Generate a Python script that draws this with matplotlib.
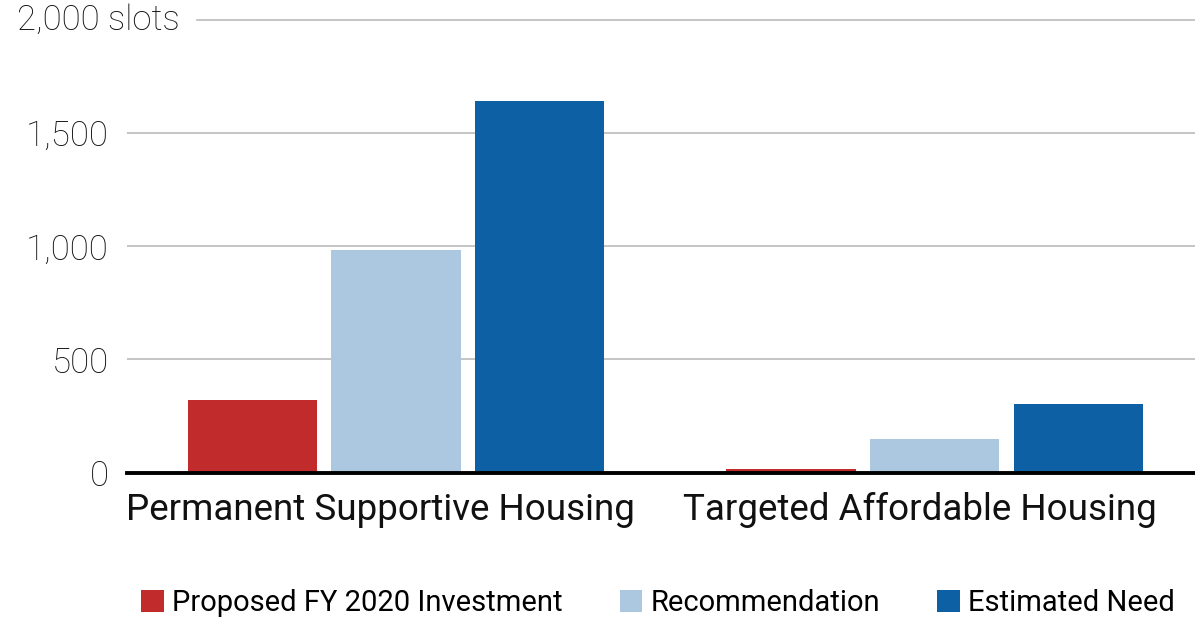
import matplotlib
matplotlib.use("Agg")
import matplotlib.pyplot as plt
import matplotlib.transforms as mtransforms
from matplotlib.patches import Patch
import numpy as np

categories = ["Permanent Supportive Housing", "Targeted Affordable Housing"]
series_names = ["Proposed FY 2020 Investment", "Recommendation", "Estimated Need"]
proposed = [322, 15]
recommendation = [984, 150]
estimated_need = [1643, 303]
ytick_values = [0, 500, 1000, 1500]
ytick_labels = ["0", "500", "1,000", "1,500"]
top_label = "2,000 slots"

colors = ["#C12B2B", "#ABC8E0", "#0E60A4"]

plt.rcParams['font.family'] = ['Roboto', 'DejaVu Sans']

W, H = 1195, 620
fig = plt.figure(figsize=(W / 100, H / 100), dpi=100)
ax_left, ax_right = 127, 1195
ax_top, ax_bottom = 20, 472.5
ax = fig.add_axes([ax_left / W, (H - ax_bottom) / H, (ax_right - ax_left) / W, (ax_bottom - ax_top) / H])

x = np.arange(len(categories))
width = 0.240
step = 0.2665
series = [proposed, recommendation, estimated_need]
for i, (vals, name, c) in enumerate(zip(series, series_names, colors)):
    ax.bar(x + (i - 1) * step, vals, width=width, color=c, label=name, zorder=2)

ax.set_xlim(-0.499, 1.483)
ax.set_ylim(0, 2000)
for s in ax.spines.values():
    s.set_visible(False)

ax.set_yticks(ytick_values)
ax.set_yticklabels(ytick_labels, fontsize=25, fontweight='light', color='#111111')
ax.tick_params(axis='y', length=0, pad=13)
ax.yaxis.grid(True, color='#BBBBBB', linewidth=1.2, zorder=0)
ax.set_axisbelow(True)
ax.axhline(2000, xmin=(197 - ax_left) / (ax_right - ax_left), xmax=1, color='#BBBBBB', linewidth=1.2, clip_on=False)
ax.axhline(0, color='black', linewidth=2.8, zorder=3, clip_on=False)

ax.text(17 / W, (H - 20) / H, top_label, transform=fig.transFigure, fontsize=25, fontweight='light',
        color='#111111', ha='left', va='center')

ax.set_xticks(x)
ax.set_xticklabels(categories, fontsize=26.5, color='#111111')
ax.tick_params(axis='x', length=0, pad=14)
offset = mtransforms.ScaledTranslation(-15 / 100, 0, fig.dpi_scale_trans)
for lbl in ax.get_xticklabels():
    lbl.set_transform(lbl.get_transform() + offset)

handles = [Patch(facecolor=c, edgecolor='none') for c in colors]
fig.legend(handles, series_names, loc='center', bbox_to_anchor=(658 / W, (H - 603) / H), ncol=3,
           frameon=False, fontsize=21, handlelength=0.78, handleheight=0.78, handletextpad=0.28,
           columnspacing=1.95)

fig.savefig("out.png", dpi=100, facecolor='white')
